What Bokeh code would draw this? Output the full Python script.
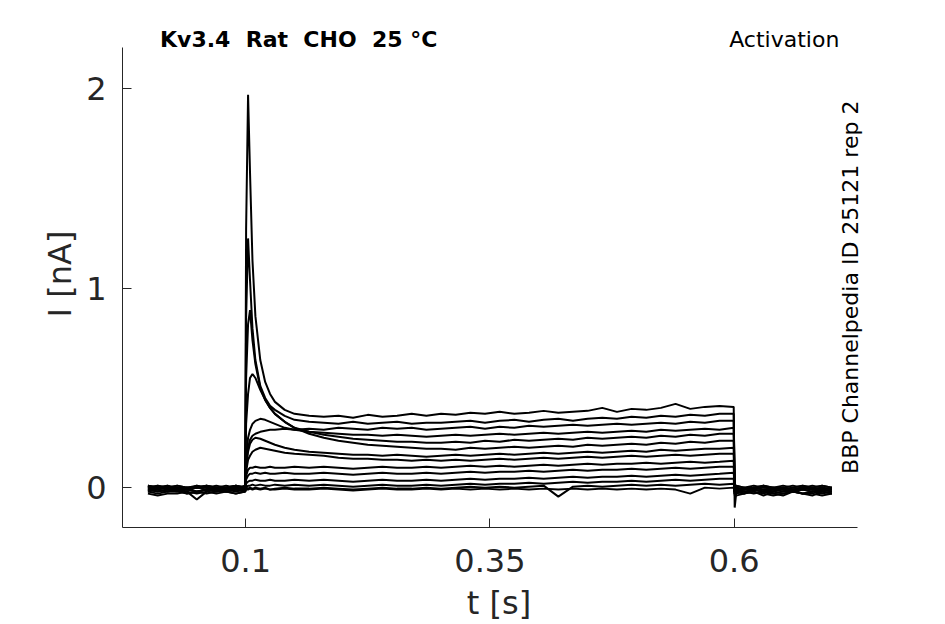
import math
from bokeh.plotting import figure
from bokeh.models import Range1d, Label, FixedTicker
from bokeh.embed import file_html
from bokeh.resources import INLINE

# time grid [s]
t_pre = [0.000, 0.010, 0.020, 0.030, 0.040, 0.050, 0.060, 0.070, 0.080, 0.090, 0.0995]
t_step = [0.1005, 0.1025, 0.1045, 0.1070, 0.1100, 0.1150, 0.1200, 0.1250, 0.1300, 0.1400, 0.1500]
t_plateau = [0.165, 0.180, 0.195, 0.210, 0.225, 0.240, 0.255, 0.270, 0.285, 0.300,
             0.315, 0.330, 0.345, 0.360, 0.375, 0.390, 0.405, 0.420, 0.435, 0.450,
             0.465, 0.480, 0.495, 0.510, 0.525, 0.540, 0.555, 0.570, 0.585, 0.5995]
t_post = [0.6005, 0.6020, 0.610, 0.620, 0.630, 0.640, 0.650, 0.660, 0.670, 0.680, 0.690, 0.700]
t = t_pre + t_step + t_plateau + t_post

# currents [nA]
i1 = ([0.01, 0.00, 0.01, 0.00, -0.01, 0.00, 0.01, 0.00, 0.01, 0.00, 0.01]
      + [1.30, 1.97, 1.58, 1.14, 0.86, 0.64, 0.53, 0.47, 0.43, 0.39, 0.37]
      + [0.36, 0.355, 0.36, 0.35, 0.365, 0.355, 0.36, 0.37, 0.36, 0.37,
         0.365, 0.375, 0.37, 0.38, 0.37, 0.375, 0.385, 0.375, 0.38, 0.385,
         0.40, 0.38, 0.395, 0.39, 0.40, 0.42, 0.395, 0.405, 0.41, 0.405]
      + [-0.10, -0.03, 0.00, -0.01, 0.01, 0.00, -0.01, 0.00, 0.01, 0.00, -0.01, 0.00])
i2 = ([-0.01, 0.00, -0.01, 0.00, 0.00, -0.02, -0.01, 0.00, -0.01, 0.00, -0.01]
      + [0.85, 1.25, 1.04, 0.80, 0.64, 0.51, 0.45, 0.41, 0.39, 0.36, 0.34]
      + [0.33, 0.325, 0.32, 0.33, 0.32, 0.325, 0.33, 0.32, 0.325, 0.325,
         0.33, 0.335, 0.325, 0.335, 0.34, 0.33, 0.34, 0.345, 0.335, 0.345,
         0.35, 0.345, 0.355, 0.35, 0.36, 0.355, 0.365, 0.36, 0.37, 0.37]
      + [-0.04, -0.02, -0.01, 0.00, -0.01, -0.02, 0.00, -0.01, -0.01, 0.00, -0.02, -0.01])
i3 = ([0.00, 0.01, 0.00, -0.01, 0.00, 0.00, -0.01, 0.00, 0.00, -0.01, 0.00]
      + [0.55, 0.82, 0.89, 0.74, 0.62, 0.50, 0.44, 0.40, 0.37, 0.33, 0.30]
      + [0.27, 0.25, 0.235, 0.225, 0.215, 0.21, 0.205, 0.20, 0.195, 0.195,
         0.19, 0.20, 0.195, 0.20, 0.205, 0.20, 0.205, 0.21, 0.205, 0.215,
         0.21, 0.215, 0.22, 0.215, 0.225, 0.22, 0.23, 0.225, 0.235, 0.235]
      + [-0.03, -0.01, 0.00, -0.01, -0.02, 0.00, -0.01, -0.02, 0.00, -0.01, 0.00, -0.01])
i4 = ([-0.02, -0.01, -0.02, -0.01, -0.03, -0.02, -0.01, -0.02, -0.01, -0.02, -0.01]
      + [0.32, 0.47, 0.55, 0.57, 0.55, 0.49, 0.44, 0.40, 0.37, 0.33, 0.30]
      + [0.28, 0.265, 0.255, 0.245, 0.24, 0.235, 0.23, 0.23, 0.225, 0.225,
         0.23, 0.225, 0.235, 0.23, 0.24, 0.235, 0.24, 0.245, 0.24, 0.25,
         0.245, 0.25, 0.255, 0.25, 0.26, 0.255, 0.265, 0.26, 0.27, 0.27]
      + [-0.02, -0.02, -0.03, -0.01, -0.02, -0.03, -0.02, -0.01, -0.03, -0.02, -0.02, -0.03])
i5 = ([0.00, -0.01, 0.00, 0.00, -0.01, 0.01, 0.00, -0.01, 0.00, 0.00, 0.00]
      + [0.15, 0.25, 0.29, 0.32, 0.335, 0.345, 0.34, 0.33, 0.32, 0.30, 0.29]
      + [0.28, 0.275, 0.27, 0.265, 0.265, 0.26, 0.265, 0.26, 0.255, 0.26,
         0.265, 0.26, 0.265, 0.27, 0.265, 0.27, 0.275, 0.27, 0.275, 0.28,
         0.275, 0.28, 0.285, 0.28, 0.29, 0.285, 0.29, 0.295, 0.29, 0.30]
      + [-0.01, 0.00, -0.01, 0.00, 0.01, -0.01, 0.00, -0.01, 0.00, 0.01, 0.00, -0.01])
i6 = ([-0.01, -0.02, -0.01, -0.01, -0.02, -0.06, -0.02, -0.01, -0.02, -0.01, -0.02]
      + [0.08, 0.14, 0.16, 0.18, 0.19, 0.20, 0.195, 0.19, 0.185, 0.175, 0.17]
      + [0.165, 0.16, 0.15, 0.145, 0.145, 0.14, 0.14, 0.135, 0.14, 0.135,
         0.14, 0.135, 0.14, 0.145, 0.14, 0.145, 0.15, 0.145, 0.15, 0.155,
         0.15, 0.155, 0.16, 0.155, 0.16, 0.165, 0.16, 0.165, 0.17, 0.17]
      + [-0.03, -0.02, -0.03, -0.02, -0.04, -0.02, -0.03, -0.02, -0.03, -0.04, -0.02, -0.03])
i7 = ([0.01, 0.00, 0.00, 0.01, 0.00, 0.01, 0.00, 0.01, 0.00, 0.01, 0.00]
      + [0.12, 0.20, 0.24, 0.26, 0.27, 0.28, 0.285, 0.29, 0.29, 0.295, 0.29]
      + [0.295, 0.29, 0.30, 0.295, 0.29, 0.30, 0.295, 0.30, 0.29, 0.295,
         0.30, 0.305, 0.295, 0.305, 0.30, 0.31, 0.305, 0.31, 0.315, 0.31,
         0.315, 0.32, 0.315, 0.32, 0.325, 0.32, 0.33, 0.325, 0.335, 0.335]
      + [0.00, 0.01, 0.00, 0.01, 0.00, 0.00, 0.01, 0.00, 0.01, 0.00, 0.01, 0.00])
i8 = ([-0.02, -0.03, -0.02, -0.02, -0.03, -0.02, -0.03, -0.02, -0.02, -0.03, -0.02]
      + [0.10, 0.18, 0.22, 0.24, 0.25, 0.245, 0.235, 0.225, 0.215, 0.20, 0.19]
      + [0.18, 0.175, 0.17, 0.165, 0.165, 0.16, 0.165, 0.16, 0.155, 0.16,
         0.165, 0.16, 0.165, 0.17, 0.165, 0.17, 0.175, 0.17, 0.175, 0.18,
         0.175, 0.18, 0.185, 0.18, 0.19, 0.185, 0.19, 0.195, 0.195, 0.20]
      + [-0.02, -0.03, -0.02, -0.03, -0.02, -0.03, -0.04, -0.02, -0.03, -0.02, -0.03, -0.02])
i9 = ([0.00, 0.00, 0.01, -0.01, 0.00, 0.00, 0.00, -0.01, 0.00, 0.01, 0.00]
      + [0.06, 0.09, 0.10, 0.10, 0.105, 0.10, 0.10, 0.105, 0.10, 0.10, 0.105]
      + [0.10, 0.105, 0.10, 0.095, 0.10, 0.105, 0.10, 0.10, 0.105, 0.10,
         0.105, 0.11, 0.105, 0.11, 0.105, 0.11, 0.115, 0.11, 0.115, 0.12,
         0.115, 0.12, 0.12, 0.125, 0.12, 0.125, 0.13, 0.125, 0.13, 0.135]
      + [-0.01, 0.00, -0.01, 0.00, -0.01, 0.00, 0.00, -0.01, 0.00, -0.01, 0.00, -0.01])
i10 = ([-0.01, -0.02, -0.01, -0.02, -0.01, -0.02, -0.01, -0.01, -0.02, -0.01, -0.01]
       + [0.04, 0.06, 0.07, 0.07, 0.075, 0.07, 0.075, 0.07, 0.07, 0.075, 0.07]
       + [0.07, 0.075, 0.07, 0.065, 0.07, 0.075, 0.07, 0.07, 0.075, 0.07,
          0.075, 0.08, 0.075, 0.08, 0.08, 0.085, 0.08, 0.085, 0.09, 0.085,
          0.09, 0.09, 0.095, 0.09, 0.095, 0.10, 0.095, 0.10, 0.105, 0.105]
       + [-0.02, -0.01, -0.02, -0.01, -0.02, -0.01, -0.02, -0.02, -0.01, -0.02, -0.01, -0.02])
i11 = ([0.01, 0.00, 0.00, 0.01, 0.00, 0.00, 0.01, 0.00, 0.00, 0.01, 0.00]
       + [0.02, 0.03, 0.035, 0.035, 0.04, 0.035, 0.035, 0.04, 0.035, 0.035, 0.04]
       + [0.035, 0.04, 0.035, 0.03, 0.035, 0.04, 0.035, 0.035, 0.04, 0.035,
          0.04, 0.045, 0.04, 0.045, 0.045, 0.05, 0.045, 0.05, 0.055, 0.05,
          0.055, 0.055, 0.06, 0.055, 0.06, 0.065, 0.06, 0.065, 0.07, 0.075]
       + [0.00, 0.01, 0.00, 0.00, 0.01, 0.00, 0.00, 0.01, 0.00, 0.00, 0.01, 0.00])
i12 = ([-0.03, -0.04, -0.03, -0.03, -0.02, -0.03, -0.02, -0.03, -0.02, -0.03, -0.02]
       + [0.00, 0.01, 0.01, 0.015, 0.01, 0.015, 0.01, 0.01, 0.015, 0.01, 0.015]
       + [0.01, 0.015, 0.01, 0.005, 0.01, 0.015, 0.01, 0.01, 0.015, 0.01,
          0.015, 0.02, 0.015, 0.02, 0.02, 0.025, 0.02, 0.025, 0.03, 0.025,
          0.03, 0.03, 0.035, 0.03, 0.035, 0.04, 0.035, 0.04, 0.045, 0.045]
       + [-0.03, -0.04, -0.03, -0.02, -0.03, -0.04, -0.03, -0.02, -0.03, -0.03, -0.04, -0.03])
i13 = ([0.00, 0.01, 0.00, -0.01, 0.00, 0.00, 0.01, 0.00, -0.01, 0.00, 0.00]
       + [0.00, -0.005, 0.00, -0.005, 0.00, -0.005, 0.00, -0.01, -0.005, 0.00, -0.005]
       + [-0.005, 0.00, -0.005, -0.01, -0.005, 0.00, -0.005, -0.005, 0.00, -0.005,
          0.00, 0.005, 0.00, 0.005, 0.00, 0.005, 0.01, -0.045, 0.005, 0.01,
          0.005, 0.01, 0.015, 0.01, 0.015, 0.01, 0.015, 0.02, 0.015, 0.02]
       + [-0.01, 0.00, -0.01, 0.00, -0.01, -0.01, 0.00, -0.01, 0.00, -0.01, -0.01, 0.00])
i14 = ([-0.01, -0.01, -0.02, -0.01, -0.01, -0.02, -0.01, -0.02, -0.01, -0.01, -0.02]
       + [-0.01, -0.01, -0.005, -0.01, -0.005, -0.01, -0.005, -0.01, -0.01, -0.005, -0.01]
       + [-0.01, -0.005, -0.01, -0.015, -0.01, -0.005, -0.01, -0.01, -0.005, -0.01,
          -0.005, -0.01, -0.005, -0.01, -0.005, -0.01, -0.005, -0.01, -0.005, -0.01,
          -0.005, -0.01, -0.005, -0.01, -0.005, -0.01, -0.03, 0.00, -0.005, 0.00]
       + [-0.02, -0.01, -0.02, -0.01, -0.02, -0.02, -0.01, -0.02, -0.01, -0.02, -0.01, -0.02])
traces = [i1, i2, i3, i4, i5, i6, i7, i8, i9, i10, i11, i12, i13, i14]

x_ticks = [0.1, 0.35, 0.6]
x_tick_labels = ["0.1", "0.35", "0.6"]
y_ticks = [0, 1, 2]
y_tick_labels = ["0", "1", "2"]
x_axis_extent = (-0.026, 0.726)
y_axis_extent = (-0.2, 2.21)

# double spaces kept with no-break spaces so SVG does not collapse them
title_text = "Kv3.4\u00a0 Rat\u00a0 CHO\u00a0 25 °C"
protocol_text = "Activation"
id_text = "BBP Channelpedia ID 25121 rep 2"

FONT = "DejaVu Sans"
AX = "#262626"

p = figure(width=945, height=624, output_backend="svg", toolbar_location=None,
           x_range=Range1d(-0.026, 0.7446), y_range=Range1d(-0.2, 2.343),
           min_border_left=122, min_border_right=70, min_border_top=20,
           min_border_bottom=97, background_fill_color="white")
p.outline_line_color = None
p.grid.visible = False

for y in traces:
    p.line(t, y, line_color="black", line_width=2.0)

p.xaxis.ticker = FixedTicker(ticks=x_ticks)
p.yaxis.ticker = FixedTicker(ticks=y_ticks)
p.xaxis.major_label_overrides = dict(zip(x_ticks, x_tick_labels))
p.yaxis.major_label_overrides = dict(zip(y_ticks, y_tick_labels))
p.xaxis.bounds = x_axis_extent
p.yaxis.bounds = y_axis_extent
p.xaxis.axis_label = "t [s]"
p.yaxis.axis_label = "I [nA]"

for ax in (p.xaxis[0], p.yaxis[0]):
    ax.axis_line_color = AX
    ax.axis_line_width = 1
    ax.major_tick_line_color = AX
    ax.major_tick_in = 9
    ax.major_tick_out = 0
    ax.minor_tick_line_color = None
    ax.major_label_text_font = FONT
    ax.major_label_text_font_size = "32px"
    ax.major_label_text_color = AX
    ax.axis_label_text_font = FONT
    ax.axis_label_text_font_size = "32px"
    ax.axis_label_text_font_style = "normal"
    ax.axis_label_text_color = AX
p.xaxis.major_label_standoff = 21
p.xaxis.axis_label_standoff = 9
p.yaxis.major_label_standoff = 16
p.yaxis.axis_label_standoff = 4

p.add_layout(Label(x=0.1543, y=2.25, text=title_text, text_font=FONT,
                   text_font_size="22px", text_font_style="bold",
                   text_color="black", text_align="center",
                   text_baseline="alphabetic"))
p.add_layout(Label(x=0.7076, y=2.25, text=protocol_text, text_font=FONT,
                   text_font_size="22px", text_color="black",
                   text_align="right", text_baseline="alphabetic"))
p.add_layout(Label(x=0.719, y=1.005, text=id_text, text_font=FONT,
                   text_font_size="22px", text_color="black", angle=math.pi / 2,
                   text_align="center", text_baseline="middle"))

open("out.html", "w").write(file_html(p, INLINE))
